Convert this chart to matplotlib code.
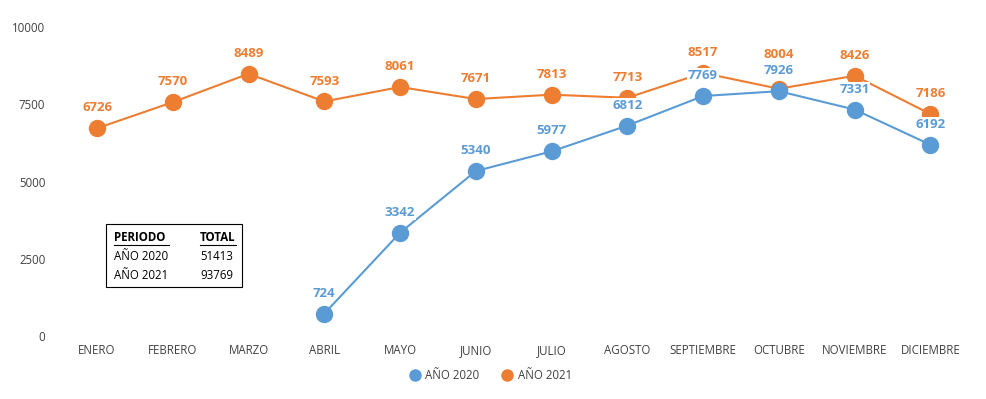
import matplotlib.pyplot as plt
import matplotlib.patches as mpatches

months = ["ENERO", "FEBRERO", "MARZO", "ABRIL", "MAYO", "JUNIO", "JULIO",
          "AGOSTO", "SEPTIEMBRE", "OCTUBRE", "NOVIEMBRE", "DICIEMBRE"]
# 2020 data starts in April
months_2020 = months[3:]
values_2020 = [724, 3342, 5340, 5977, 6812, 7769, 7926, 7331, 6192]
values_2021 = [6726, 7570, 8489, 7593, 8061, 7671, 7813, 7713, 8517, 8004, 8426, 7186]
totals = [("AÑO 2020", "51413"), ("AÑO 2021", "93769")]

BLUE = "#5B9BD5"
ORANGE = "#ED7D31"

plt.rcParams['font.family'] = ['Open Sans', 'DejaVu Sans']

fig = plt.figure(figsize=(9.86, 3.99), dpi=100)
ax = fig.add_axes([0.060, 0.158, 0.922, 0.774])

x_all = list(range(len(months)))
x_2020 = [months.index(m) for m in months_2020]

ax.plot(x_all, values_2021, color=ORANGE, lw=1.5, marker="o", ms=11.5,
        label="AÑO 2021", zorder=3)
ax.plot(x_2020, values_2020, color=BLUE, lw=1.5, marker="o", ms=11.5,
        label="AÑO 2020", zorder=4)

# the OCTUBRE 2021 label was lifted to clear the 2020 label
for xi, v in zip(x_all, values_2021):
    dy = 20 if months[xi] == "OCTUBRE" else 10
    ax.annotate(str(v), (xi, v), xytext=(0, dy), textcoords="offset points",
                ha="center", va="bottom", fontsize=9.5, fontweight="bold",
                color=ORANGE, zorder=5,
                bbox=dict(boxstyle="square,pad=0.05", fc="white", ec="none"))
for xi, v in zip(x_2020, values_2020):
    ax.annotate(str(v), (xi, v), xytext=(0, 10), textcoords="offset points",
                ha="center", va="bottom", fontsize=9.5, fontweight="bold",
                color=BLUE, zorder=6,
                bbox=dict(boxstyle="square,pad=0.05", fc="white", ec="none"))

ax.set_xlim(-0.5, len(months) - 0.5)
ax.set_ylim(0, 10000)
ax.set_yticks([0, 2500, 5000, 7500, 10000])
ax.set_xticks(x_all)
ax.set_xticklabels(months)
ax.tick_params(axis="both", length=0, labelsize=8.3, colors="#404040")
ax.tick_params(axis="x", pad=6)
ax.tick_params(axis="y", pad=10)
for s in ax.spines.values():
    s.set_visible(False)

# totals box
box = mpatches.Rectangle((0.051, 0.157), 0.150, 0.207, transform=ax.transAxes,
                         fill=False, ec="black", lw=0.8, zorder=7)
ax.add_patch(box)
ax.text(0.060, 0.318, "PERIODO", transform=ax.transAxes, fontsize=8.3,
        fontweight="bold", va="center", zorder=8)
ax.text(0.155, 0.318, "TOTAL", transform=ax.transAxes, fontsize=8.3,
        fontweight="bold", va="center", zorder=8)
ax.plot([0.060, 0.121], [0.293, 0.293], transform=ax.transAxes, color="black", lw=0.8)
ax.plot([0.155, 0.194], [0.293, 0.293], transform=ax.transAxes, color="black", lw=0.8)
for i, (p, t) in enumerate(totals):
    y = 0.258 - i * 0.063
    ax.text(0.060, y, p, transform=ax.transAxes, fontsize=8.3, va="center", zorder=8)
    ax.text(0.155, y, t, transform=ax.transAxes, fontsize=8.3, va="center", zorder=8)

handles, labels = ax.get_legend_handles_labels()
fig.legend(handles[::-1], labels[::-1], loc="center", bbox_to_anchor=(0.498, 0.058),
           ncol=2, frameon=False, fontsize=8.3, handlelength=0.8,
           columnspacing=2.0, handletextpad=0.5,
           labelcolor="#404040")
for h in fig.legends[0].legend_handles:
    h.set_linestyle("none")
    h.set_markersize(8)

fig.savefig("out.png", dpi=100)
